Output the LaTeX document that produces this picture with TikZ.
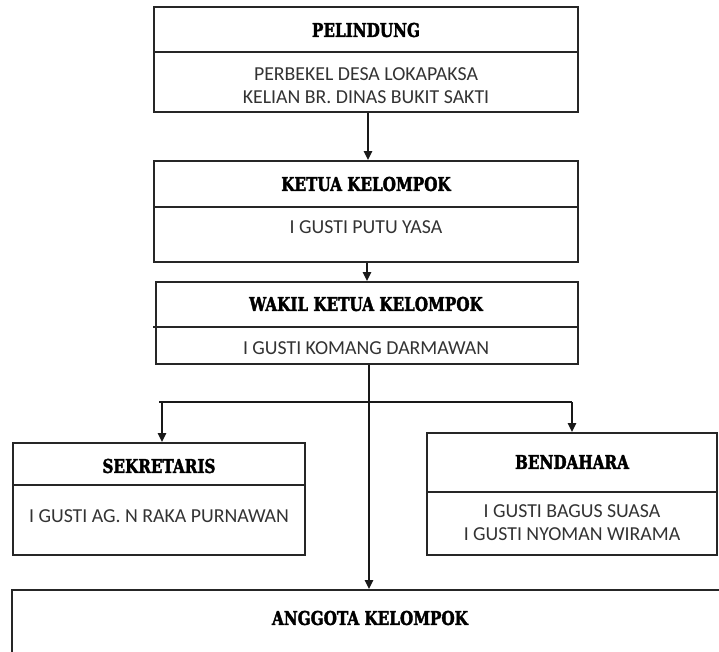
\documentclass[tikz,border=0pt]{standalone}
\usepackage{fontspec}
\setmainfont{Carlito}
\newfontfamily\titlefont[FakeStretch=0.8,FakeBold=2]{DejaVu Serif}
\usetikzlibrary{arrows.meta}
\begin{document}
\begin{tikzpicture}[x=1pt,y=-1pt,
  box/.style={draw=black!85, line width=1.8pt, inner sep=0pt, fill=white},
  divider/.style={draw=black!85, line width=1.8pt},
  ttl/.style={font=\titlefont\bfseries\fontsize{19}{22}\selectfont, inner sep=0pt},
  txt/.style={font=\fontsize{19.8}{23}\selectfont, align=center, inner sep=0pt, text=black!80},
  arr/.style={draw=black!90, line width=2.4pt, -{Triangle[length=9pt,width=8pt]}},
  ln/.style={draw=black!90, line width=2.4pt}]
\useasboundingbox (0,0) rectangle (719,652);
\clip (0,0) rectangle (719,652);

% boxes
\node[box, minimum width=424pt, minimum height=105pt] (pel) at (366,59.5) {};
\node[box, minimum width=424pt, minimum height=101pt] (ket) at (366,211.5) {};
\node[box, minimum width=422pt, minimum height=82pt] (wak) at (367,323) {};
\node[box, minimum width=292pt, minimum height=112pt] (sek) at (159,499) {};
\node[box, minimum width=290pt, minimum height=122pt] (ben) at (572,494) {};
\node[box, minimum width=720pt, minimum height=80pt] (ang) at (372,630) {};

% dividers
\draw[divider] (pel.west |- 0,52) -- (pel.east |- 0,52);
\draw[divider] (ket.west |- 0,207) -- (ket.east |- 0,207);
\draw[divider] (153,327) -- (wak.east |- 0,327);
\draw[divider] (sek.west |- 0,485) -- (sek.east |- 0,485);
\draw[divider] (ben.west |- 0,492) -- (ben.east |- 0,492);

% texts
\node[ttl] (pelT) at (366,30) {PELINDUNG};
\node[txt] (pelC) at (366,86) {PERBEKEL DESA LOKAPAKSA\\KELIAN BR. DINAS BUKIT SAKTI};
\node[ttl] (ketT) at (366,184) {KETUA KELOMPOK};
\node[txt] (ketC) at (366,227) {I GUSTI PUTU YASA};
\node[ttl] (wakT) at (366,304) {WAKIL KETUA KELOMPOK};
\node[txt] (wakC) at (366,348) {I GUSTI KOMANG DARMAWAN};
\node[ttl] (sekT) at (159,466) {SEKRETARIS};
\node[txt] (sekC) at (159,516) {I GUSTI AG. N RAKA PURNAWAN};
\node[ttl] (benT) at (572,462) {BENDAHARA};
\node[txt] (benC) at (572,523) {I GUSTI BAGUS SUASA\\I GUSTI NYOMAN WIRAMA};
\node[ttl] (angT) at (370,618) {ANGGOTA KELOMPOK};

% connectors
\draw[arr] ([xshift=2pt]pel.south) -- ([xshift=2pt]ket.north);
\draw[arr] ([xshift=1pt]ket.south) -- ([xshift=0pt]wak.north);
\coordinate (split) at (369,402);
\draw[arr] ([xshift=2pt]wak.south) -- ([xshift=2pt]wak.south |- ang.north);
\draw[ln] (split -| sek.north) -- (split -| ben.north);
\draw[arr] ([xshift=3pt]split -| sek.north) -- ([xshift=3pt]sek.north);
\draw[arr] (split -| ben.north) -- (ben.north);
\end{tikzpicture}
\end{document}
